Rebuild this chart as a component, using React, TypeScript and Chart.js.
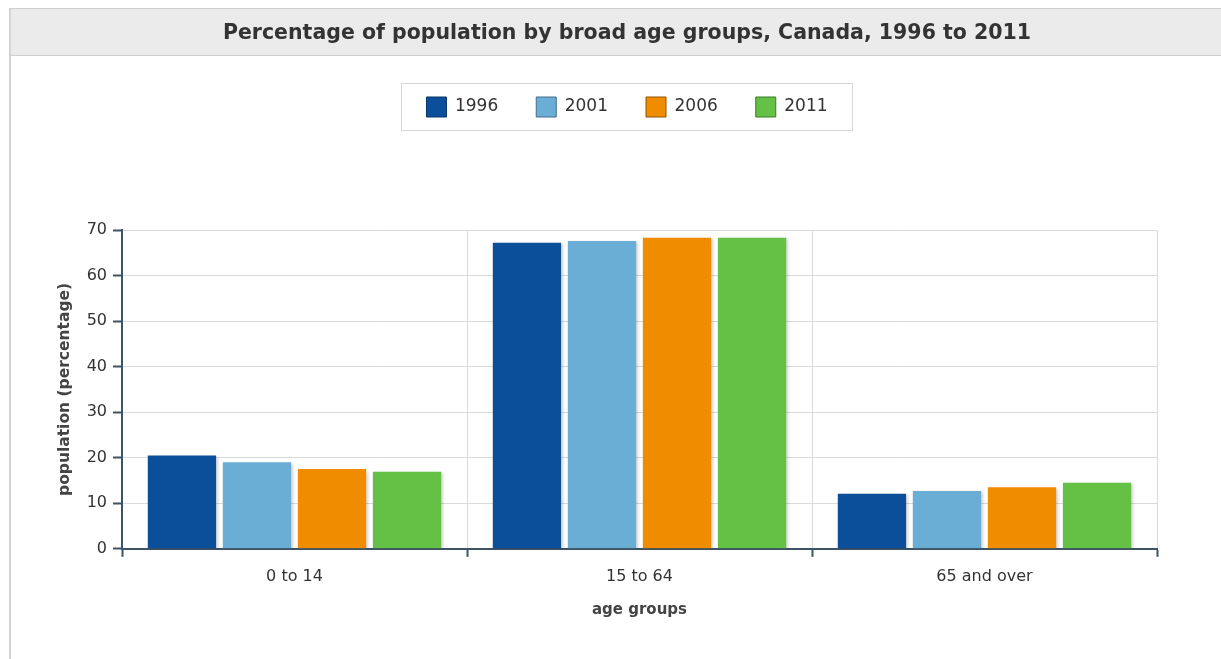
import React, { useEffect, useRef } from "react";
import { Chart, registerables } from "chart.js";

Chart.register(...registerables);

const chartTitle = "Percentage of population by broad age groups, Canada, 1996 to 2011";
const categories = ["0 to 14", "15 to 64", "65 and over"];
const seriesNames = ["1996", "2001", "2006", "2011"];
const values1996 = [20.5, 67.2, 12.1];
const values2001 = [19.0, 67.6, 12.7];
const values2006 = [17.5, 68.3, 13.5];
const values2011 = [16.9, 68.3, 14.5];
const yTickValues = [0, 10, 20, 30, 40, 50, 60, 70];
const xAxisTitle = "age groups";
const yAxisTitle = "population (percentage)";

const barColors = ["#0b4f9a", "#6aaed6", "#f08c00", "#65c145"];
const legendBorders = ["#0a3566", "#3f6f8f", "#8a5500", "#3b7a2a"];
const axisColor = "#3d5366";
const gridColor = "#dadada";
const textColor = "#333333";

const framePlugin = {
  id: "framePlugin",
  beforeLayout(chart: any) {
    const lg = chart.legend;
    if (lg && !lg.__patched) {
      const orig = lg.fit.bind(lg);
      lg.fit = function () {
        orig();
        this.height += 103;
      };
      lg.__patched = true;
    }
  },
  beforeDraw(chart: any) {
    const { ctx, width, height } = chart;
    ctx.save();
    ctx.fillStyle = "#ffffff";
    ctx.fillRect(0, 0, width, height);
    ctx.fillStyle = "#ebebeb";
    ctx.fillRect(9, 8, width - 9, 48);
    ctx.fillStyle = "#d0d0d0";
    ctx.fillRect(9, 8, width - 9, 1);
    ctx.fillRect(9, 55, width - 9, 1);
    ctx.fillStyle = "#d4d4d4";
    ctx.fillRect(9, 8, 2, height - 8);
    ctx.restore();
  },
  afterDraw(chart: any) {
    const legend = chart.legend;
    if (!legend || !legend.legendHitBoxes || !legend.legendHitBoxes.length) return;
    const hb = legend.legendHitBoxes;
    let l = Infinity, r = -Infinity, t = Infinity, b = -Infinity;
    hb.forEach((h: any) => {
      l = Math.min(l, h.left);
      r = Math.max(r, h.left + h.width);
      t = Math.min(t, h.top);
      b = Math.max(b, h.top + h.height);
    });
    const { ctx } = chart;
    ctx.save();
    ctx.strokeStyle = "#d6d6d6";
    ctx.lineWidth = 1;
    ctx.strokeRect(Math.round(l - 25) + 0.5, Math.round(t - 14) + 0.5, Math.round(r - l + 50), Math.round(b - t + 27));
    ctx.restore();
  },
};

const shadowPlugin = {
  id: "shadowPlugin",
  beforeDatasetsDraw(chart: any) {
    const { ctx } = chart;
    ctx.save();
    ctx.shadowColor = "rgba(0,0,0,0.18)";
    ctx.shadowBlur = 3;
    ctx.shadowOffsetX = 1.5;
    ctx.shadowOffsetY = 1.5;
  },
  afterDatasetsDraw(chart: any) {
    chart.ctx.restore();
  },
};

export default function App() {
  const canvasRef = useRef<HTMLCanvasElement | null>(null);

  useEffect(() => {
    const canvas = canvasRef.current;
    if (!canvas) return;
    Chart.defaults.font.family = "'DejaVu Sans', Verdana, sans-serif";
    Chart.defaults.color = textColor;
    const seriesValues = [values1996, values2001, values2006, values2011];
    const chart = new Chart(canvas, {
      type: "bar",
      data: {
        labels: categories,
        datasets: seriesNames.map((name, i) => ({
          label: name,
          data: seriesValues[i],
          backgroundColor: barColors[i],
          borderWidth: 0,
          categoryPercentage: 0.87,
          barPercentage: 0.91,
        })),
      },
      options: {
        animation: false,
        responsive: true,
        maintainAspectRatio: false,
        events: [],
        layout: { padding: { left: 56, right: 23, top: 0, bottom: 40 } },
        plugins: {
          tooltip: { enabled: false },
          title: {
            display: true,
            text: chartTitle,
            color: "#333333",
            font: { size: 20.5, weight: "bold", lineHeight: 1.2 },
            padding: { top: 21, bottom: 13.4 },
          },
          legend: {
            display: true,
            position: "top",
            labels: {
              boxWidth: 20,
              boxHeight: 20,
              padding: 38,
              color: textColor,
              font: { size: 17 },
              generateLabels: (c: any) =>
                c.data.datasets.map((ds: any, i: number) => ({
                  text: ds.label,
                  fillStyle: barColors[i],
                  strokeStyle: legendBorders[i],
                  lineWidth: 1,
                  hidden: false,
                  datasetIndex: i,
                  fontColor: textColor,
                })),
            },
          },
        },
        scales: {
          x: {
            offset: true,
            grid: {
              display: true,
              offset: true,
              color: gridColor,
              lineWidth: 1,
              drawTicks: true,
              tickLength: 8,
              tickColor: axisColor,
              tickWidth: 2,
            },
            border: { display: true, color: axisColor, width: 2 },
            ticks: { color: textColor, font: { size: 16 }, padding: 10 },
            title: {
              display: true,
              text: xAxisTitle,
              color: "#444444",
              font: { size: 15, weight: "bold" },
              padding: { top: 5, bottom: 0 },
            },
            afterFit: (s: any) => {
              s.paddingLeft = 0;
              s.paddingRight = 64;
            },
          },
          y: {
            min: 0,
            max: 70,
            grid: {
              color: gridColor,
              lineWidth: 1,
              drawTicks: true,
              tickLength: 9,
              tickColor: axisColor,
              tickWidth: 2,
            },
            border: { display: true, color: axisColor, width: 2 },
            ticks: { color: textColor, font: { size: 16 }, padding: 6 },
            afterBuildTicks: (s: any) => {
              s.ticks = yTickValues.map((v) => ({ value: v }));
            },
            title: {
              display: true,
              text: yAxisTitle,
              color: "#444444",
              font: { size: 15.5, weight: "bold" },
              padding: { top: 0, bottom: 0 },
            },
            afterFit: (s: any) => {
              s.width = 66;
            },
          },
        },
      },
      plugins: [framePlugin, shadowPlugin],
    } as any);
    return () => chart.destroy();
  }, []);

  return (
    <div style={{ position: "fixed", left: 0, top: 0, width: 1221, height: 659 }}>
      <canvas ref={canvasRef} />
    </div>
  );
}
